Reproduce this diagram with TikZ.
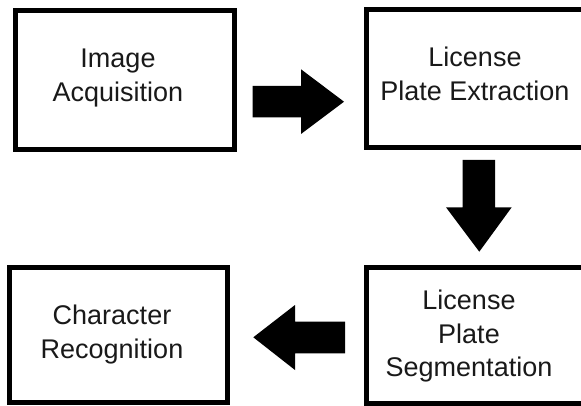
\documentclass[tikz,border=0pt]{standalone}
\usepackage{fontspec}
\setmainfont{Liberation Sans}
\begin{document}
\begin{tikzpicture}[x=1pt,y=-1pt,
  stagebox/.style={draw=black,line width=5pt,fill=white,inner sep=0pt,rectangle},
  stagetext/.style={font=\fontsize{27}{33.5}\selectfont,align=center,inner sep=0pt,anchor=north,text=black!90},
  blockarrow/.style={fill=black}]
  \clip (0,0) rectangle (581,406);

  % process stages
  \node[stagebox,minimum width=219pt,minimum height=138.7pt] (acq) at (124.5,80.35) {};
  \node[stagebox,minimum width=223.5pt,minimum height=137.5pt] (ext) at (478.25,78.75) {};
  \node[stagebox,minimum width=223.5pt,minimum height=135.5pt] (seg) at (478.25,335.25) {};
  \node[stagebox,minimum width=218.3pt,minimum height=135pt] (rec) at (118.35,335) {};

  % stage labels
  \node[stagetext] (acqlbl) at (118,49) {Image\\Acquisition};
  \node[stagetext] (extlbl) at (475,47) {License\\Plate Extraction};
  \node[stagetext] (seglbl) at (469,290) {License\\Plate\\Segmentation};
  \node[stagetext] (reclbl) at (112,305) {Character\\Recognition};

  % block arrows between the stages
  \fill[blockarrow] (252.7,86) -- (301,86) -- (301,69.3) -- (344,101.7)
    -- (301,134) -- (301,117.3) -- (252.7,117.3) -- cycle;
  \fill[blockarrow] (462.7,160) -- (495,160) -- (495,207.3) -- (511.7,207.3)
    -- (479.3,251.7) -- (446,207.3) -- (462.7,207.3) -- cycle;
  \fill[blockarrow] (345,321.7) -- (295,321.7) -- (295,305) -- (253.3,337.3)
    -- (295,370) -- (295,353.3) -- (345,353.3) -- cycle;
\end{tikzpicture}
\end{document}
